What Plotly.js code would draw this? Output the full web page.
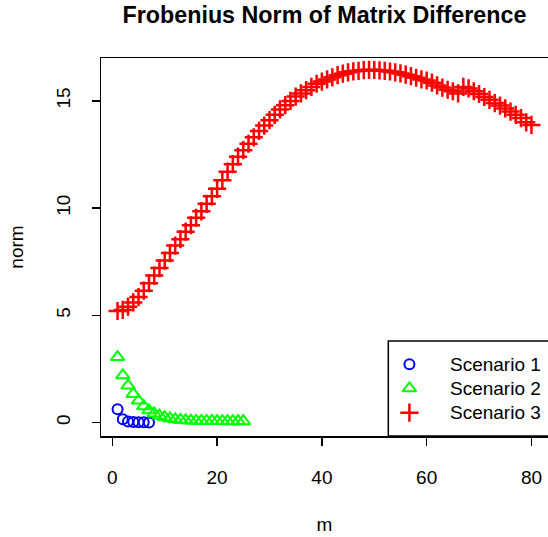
<!DOCTYPE html>
<html>
<head>
<meta charset="utf-8">
<script src="https://cdn.plot.ly/plotly-3.0.1.min.js"></script>
<style>html,body{margin:0;padding:0;background:#fff;}#chart{width:548px;height:537px;}</style>
</head>
<body>
<div id="chart"></div>
<script>
// ---- data ----
const mBlue = [1, 2, 3, 4, 5, 6, 7];
const normBlue = [0.62, 0.15, 0.05, 0.02, 0.01, 0.01, 0.005];

const mGreen = [1,2,3,4,5,6,7,8,9,10,11,12,13,14,15,16,17,18,19,20,21,22,23,24,25];
const normGreen = [3.05,2.2,1.72,1.33,1.02,0.76,0.57,0.42,0.32,0.25,0.19,0.15,0.12,0.1,0.09,0.08,0.075,0.07,0.07,0.065,0.065,0.06,0.06,0.06,0.06];

const mRed = [1,2,3,4,5,6,7,8,9,10,11,12,13,14,15,16,17,18,19,20,
  21,22,23,24,25,26,27,28,29,30,31,32,33,34,35,36,37,38,39,40,
  41,42,43,44,45,46,47,48,49,50,51,52,53,54,55,56,57,58,59,60,
  61,62,63,64,65,66,67,68,69,70,71,72,73,74,75,76,77,78,79,80];
const normRed = [5.2,5.25,5.4,5.6,5.85,6.15,6.5,6.85,7.2,7.55,
  7.9,8.25,8.55,8.9,9.2,9.55,9.85,10.2,10.55,10.9,
  11.3,11.7,12.05,12.4,12.7,13.0,13.3,13.6,13.85,14.1,
  14.35,14.6,14.8,15.0,15.2,15.35,15.5,15.65,15.8,15.9,
  16.0,16.1,16.2,16.27,16.33,16.38,16.4,16.43,16.45,16.44,
  16.42,16.4,16.37,16.33,16.28,16.22,16.15,16.08,16.0,15.95,
  15.85,15.72,15.62,15.52,15.45,15.35,15.65,15.58,15.45,15.32,
  15.18,15.05,14.9,14.78,14.65,14.5,14.35,14.2,14.0,13.88];

const seriesNames = ["Scenario 1", "Scenario 2", "Scenario 3"];
const xTicks = [0, 20, 40, 60, 80];
const yTicks = [0, 5, 10, 15];

// ---- styles ----
const FONT = "Liberation Sans, Arial, Helvetica, sans-serif";
const markerStyles = [
  {symbol: "circle-open", size: 10, color: "#0000FF", line: {width: 2, color: "#0000FF"}},
  {symbol: "triangle-up-open", size: 12, color: "#00FF00", line: {width: 2, color: "#00FF00"}},
  {symbol: "cross-thin-open", size: 13, color: "#FF0000", line: {width: 2.5, color: "#FF0000"}}
];
const seriesX = [mBlue, mGreen, mRed];
const seriesY = [normBlue, normGreen, normRed];

const traces = seriesNames.map((name, i) => ({
  x: seriesX[i], y: seriesY[i], name: name, type: "scatter", mode: "markers",
  marker: markerStyles[i], showlegend: false
}));

// legend (R-style box at bottom right), keys drawn on an overlay axis in [0,1] plot fractions
const legKeyX = 0.690;
const legRowY = [0.1897, 0.1262, 0.0616];
const legTextX = 0.777;
seriesNames.forEach((name, i) => {
  traces.push({
    x: [legKeyX], y: [legRowY[i]], xaxis: "x2", yaxis: "y2",
    type: "scatter", mode: "markers", marker: markerStyles[i],
    showlegend: false, hoverinfo: "skip", cliponaxis: false
  });
});

const axisCommon = {
  showgrid: false, zeroline: false, showline: true, mirror: true,
  linecolor: "#000", linewidth: 1.5,
  ticks: "outside", ticklen: 8, tickwidth: 1.5, tickcolor: "#000",
  tickfont: {family: FONT, size: 19, color: "#000"}
};

const annotations = seriesNames.map((name, i) => ({
  text: name, xref: "paper", yref: "paper", x: legTextX, y: legRowY[i],
  xanchor: "left", yanchor: "middle", showarrow: false,
  font: {family: FONT, size: 19, color: "#000"}
}));

const layout = {
  width: 548, height: 537,
  margin: {l: 101, r: 0, t: 58, b: 101},
  paper_bgcolor: "#fff", plot_bgcolor: "#fff",
  showlegend: false,
  title: {text: "<b>Frobenius Norm of Matrix Difference</b>", font: {family: FONT, size: 23.3, color: "#000"},
          x: 0.592, xanchor: "center", y: 0.973, yanchor: "middle"},
  xaxis: Object.assign({}, axisCommon, {
    range: [-2.16, 83.16], tickvals: xTicks, ticktext: xTicks.map(String),
    ticklabelstandoff: 16,
    title: {text: "m", font: {family: FONT, size: 19, color: "#000"}, standoff: 30}
  }),
  yaxis: Object.assign({}, axisCommon, {
    range: [-0.63, 17.0], tickvals: yTicks, ticktext: yTicks.map(String),
    tickangle: -90, ticklabelstandoff: 14,
    title: {text: "norm", font: {family: FONT, size: 19, color: "#000"}, standoff: 24}
  }),
  xaxis2: {overlaying: "x", range: [0, 1], visible: false, fixedrange: true},
  yaxis2: {overlaying: "y", range: [0, 1], visible: false, fixedrange: true},
  shapes: [{
    type: "rect", xref: "paper", yref: "paper", x0: 0.6427, x1: 1.02, y0: 0, y1: 0.2513,
    line: {color: "#000", width: 1.5}, fillcolor: "rgba(255,255,255,0)", layer: "above"
  }],
  annotations: annotations
};

Plotly.newPlot("chart", traces, layout, {displayModeBar: false, staticPlot: true});
</script>
</body>
</html>
